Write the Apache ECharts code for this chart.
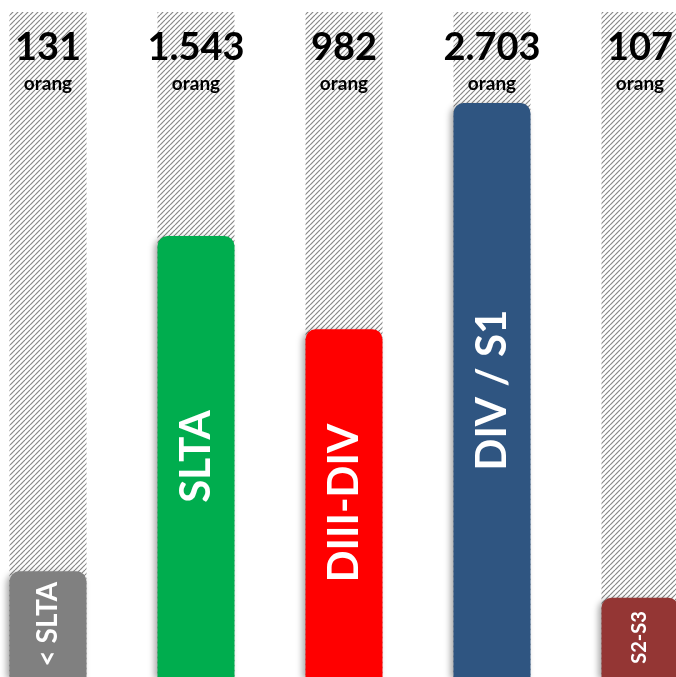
<!DOCTYPE html>
<html>
<head>
<meta charset="utf-8">
<script src="https://cdn.jsdelivr.net/npm/echarts@6/dist/echarts.min.js"></script>
<style>
  html, body { margin: 0; padding: 0; background: #fff; }
  #main { width: 676px; height: 677px; }
</style>
</head>
<body>
<div id="main"></div>
<script>
var mychart = echarts.init(document.getElementById('main'));

// education levels, as printed inside the bars
var categories = ['< SLTA', 'SLTA', 'DIII-DIV', 'DIV / S1', 'S2-S3'];
// number of people printed above each column
var people = [131, 1543, 982, 2703, 107];
// bar height, as % of the hatched column
var barLevel = [15.9, 66.3, 52.3, 86.3, 11.9];
var barColors = ['#808080', '#00ad4e', '#ff0000', '#2f5581', '#943634'];
var innerFont = [28, 42, 42, 42, 20];

// diagonal hatch for the background columns
function hatch() {
    var c = document.createElement('canvas');
    c.width = 5; c.height = 5;
    var ctx = c.getContext('2d');
    ctx.strokeStyle = '#888888';
    ctx.lineWidth = 1.2;
    for (var k = -5; k <= 5; k += 5) {
        ctx.beginPath();
        ctx.moveTo(k, 5);
        ctx.lineTo(k + 5, 0);
        ctx.stroke();
    }
    return c;
}

function fmt(n) {
    return n.toString().replace(/\B(?=(\d{3})+(?!\d))/g, '.');
}

var bgData = [];
var barData = [];
for (let i = 0; i < categories.length; i++) {
    bgData.push(100);
    barData.push({
        value: barLevel[i],
        itemStyle: { color: barColors[i] },
        label: { fontSize: innerFont[i] }
    });
}

var option = {
    animation: false,
    grid: { left: 48, right: 36, top: 12, bottom: 0 },
    xAxis: {
        type: 'category',
        boundaryGap: false,
        data: categories,
        show: false
    },
    yAxis: {
        type: 'value',
        min: 0,
        max: 100,
        show: false
    },
    series: [
        {
            type: 'bar',
            barWidth: 77,
            clip: false,
            silent: true,
            data: bgData,
            itemStyle: { color: { image: hatch(), repeat: 'repeat' } },
            label: {
                show: true,
                position: 'insideTop',
                distance: 13,
                formatter: function (p) {
                    return '{v|' + fmt(people[p.dataIndex]) + '}\n{u|orang}';
                },
                rich: {
                    v: { fontFamily: 'Lato', fontWeight: 'bold', fontSize: 38, lineHeight: 46, color: '#000' },
                    u: { fontFamily: 'Lato', fontWeight: 'bold', fontSize: 19, lineHeight: 26, color: '#000' }
                }
            }
        },
        {
            type: 'bar',
            barWidth: 77,
            barGap: '-100%',
            clip: false,
            data: barData,
            itemStyle: {
                borderRadius: [10, 10, 0, 0],
                shadowColor: 'rgba(0,0,0,0.35)',
                shadowBlur: 6,
                shadowOffsetX: -3,
                shadowOffsetY: 2
            },
            label: {
                show: true,
                position: 'inside',
                rotate: 90,
                color: '#fff',
                fontFamily: 'Lato',
                fontWeight: 'bold',
                formatter: function (p) { return categories[p.dataIndex]; }
            }
        }
    ]
};

mychart.setOption(option);
</script>
</body>
</html>
